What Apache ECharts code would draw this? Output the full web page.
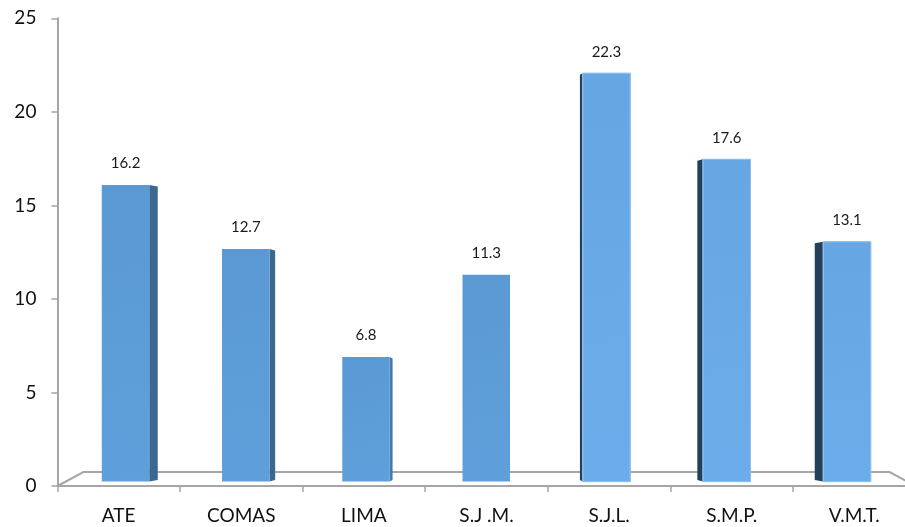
<!DOCTYPE html>
<html>
<head>
<meta charset="utf-8">
<script src="https://cdn.jsdelivr.net/npm/echarts@6/dist/echarts.min.js"></script>
<style>html,body{margin:0;padding:0;background:#fff}#c{width:905px;height:527px}</style>
</head>
<body>
<div id="c"></div>
<script>
var categories = ['ATE', 'COMAS', 'LIMA', 'S.J .M.', 'S.J.L.', 'S.M.P.', 'V.M.T.'];
var values = [16.2, 12.7, 6.8, 11.3, 22.3, 17.6, 13.1];
var yMin = 0, yMax = 25, yInterval = 5;

var chart = echarts.init(document.getElementById('c'));
var FONT = 'Lato, "Open Sans", sans-serif';

function renderBar(params, api) {
  var i = api.value(0), v = api.value(1);
  var top = api.coord([i, v]);
  var base = api.coord([i, 0]);
  var band = api.size([1, 0])[0];
  var w = band * 0.395;
  var cx = top[0];
  var x0 = cx - w / 2, x1 = cx + w / 2;
  var cs = params.coordSys;
  var vp = cs.x + cs.width / 2;
  var d = (vp - cx) * 0.0235;
  var children = [];
  if (Math.abs(d) > 0.5) {
    var ex = d > 0 ? x1 : x0;
    children.push({
      type: 'polygon',
      shape: { points: [[ex, top[1]], [ex + d, top[1] + 1.5], [ex + d, base[1] - 1.5], [ex, base[1]]] },
      style: { fill: d > 0 ? (Math.abs(d) > 5 ? '#3b6890' : '#4679ad') : '#253f58' }
    });
  }
  children.push({
    type: 'rect',
    shape: { x: x0, y: top[1], width: w, height: base[1] - top[1] },
    style: {
      fill: new echarts.graphic.LinearGradient(0, 0, 1, 1, [
        { offset: 0, color: cx > vp ? '#66a6e2' : '#5a99d3' },
        { offset: 1, color: cx > vp ? '#6badea' : '#5f9fdb' }
      ]),
      stroke: cx > vp + 10 ? '#8cbff0' : null,
      lineWidth: 1
    }
  });
  children.push({
    type: 'text',
    style: {
      text: String(v), x: cx, y: top[1] - 14,
      align: 'center', verticalAlign: 'bottom',
      fill: '#1a1a1a', font: '15px ' + FONT
    }
  });
  return { type: 'group', children: children };
}

chart.setOption({
  animation: false,
  grid: [
    { left: 57.4, top: 18.3, width: 858.2, bottom: 41, outerBoundsMode: 'none', containLabel: false },
    { left: 65.4, top: 23.85, width: 841.7, bottom: 45.4, outerBoundsMode: 'none', containLabel: false }
  ],
  xAxis: [
    {
      type: 'category', gridIndex: 0, data: categories, boundaryGap: true,
      axisLine: { lineStyle: { color: '#a6a6a6', width: 2 } },
      axisTick: { show: true, length: 6, lineStyle: { color: '#a6a6a6', width: 1.5 } },
      axisLabel: { color: '#111', fontSize: 19, fontFamily: FONT, margin: 20 }
    },
    { type: 'category', gridIndex: 1, data: categories, show: false }
  ],
  yAxis: [
    {
      type: 'value', gridIndex: 0, min: yMin, max: yMax, interval: yInterval,
      axisLine: { show: true, lineStyle: { color: '#a6a6a6', width: 2 } },
      axisTick: { show: true, length: 6, lineStyle: { color: '#a6a6a6', width: 1.5 } },
      splitLine: { show: false },
      axisLabel: { color: '#111', fontSize: 19, fontFamily: FONT, margin: 21 }
    },
    { type: 'value', gridIndex: 1, min: yMin, max: yMax, show: false }
  ],
  series: [{
    type: 'custom', xAxisIndex: 1, yAxisIndex: 1, z: 5,
    renderItem: renderBar,
    data: values.map(function (v, i) { return [i, v]; })
  }]
});

// floor (perspective plane) derived from the visible axis grid
var rect = chart.getModel().getComponent('grid', 0).coordinateSystem.getRect();
var x0 = rect.x, x1 = rect.x + rect.width, yb = rect.y + rect.height;
var depthY = 14, depthX = 26;
chart.setOption({
  graphic: [{
    type: 'polyline', z: 1,
    shape: { points: [[x0, yb], [x0 + depthX, yb - depthY], [x1 - depthX, yb - depthY], [x1, yb]] },
    style: { stroke: '#a6a6a6', lineWidth: 2, fill: null }
  }]
});
</script>
</body>
</html>
